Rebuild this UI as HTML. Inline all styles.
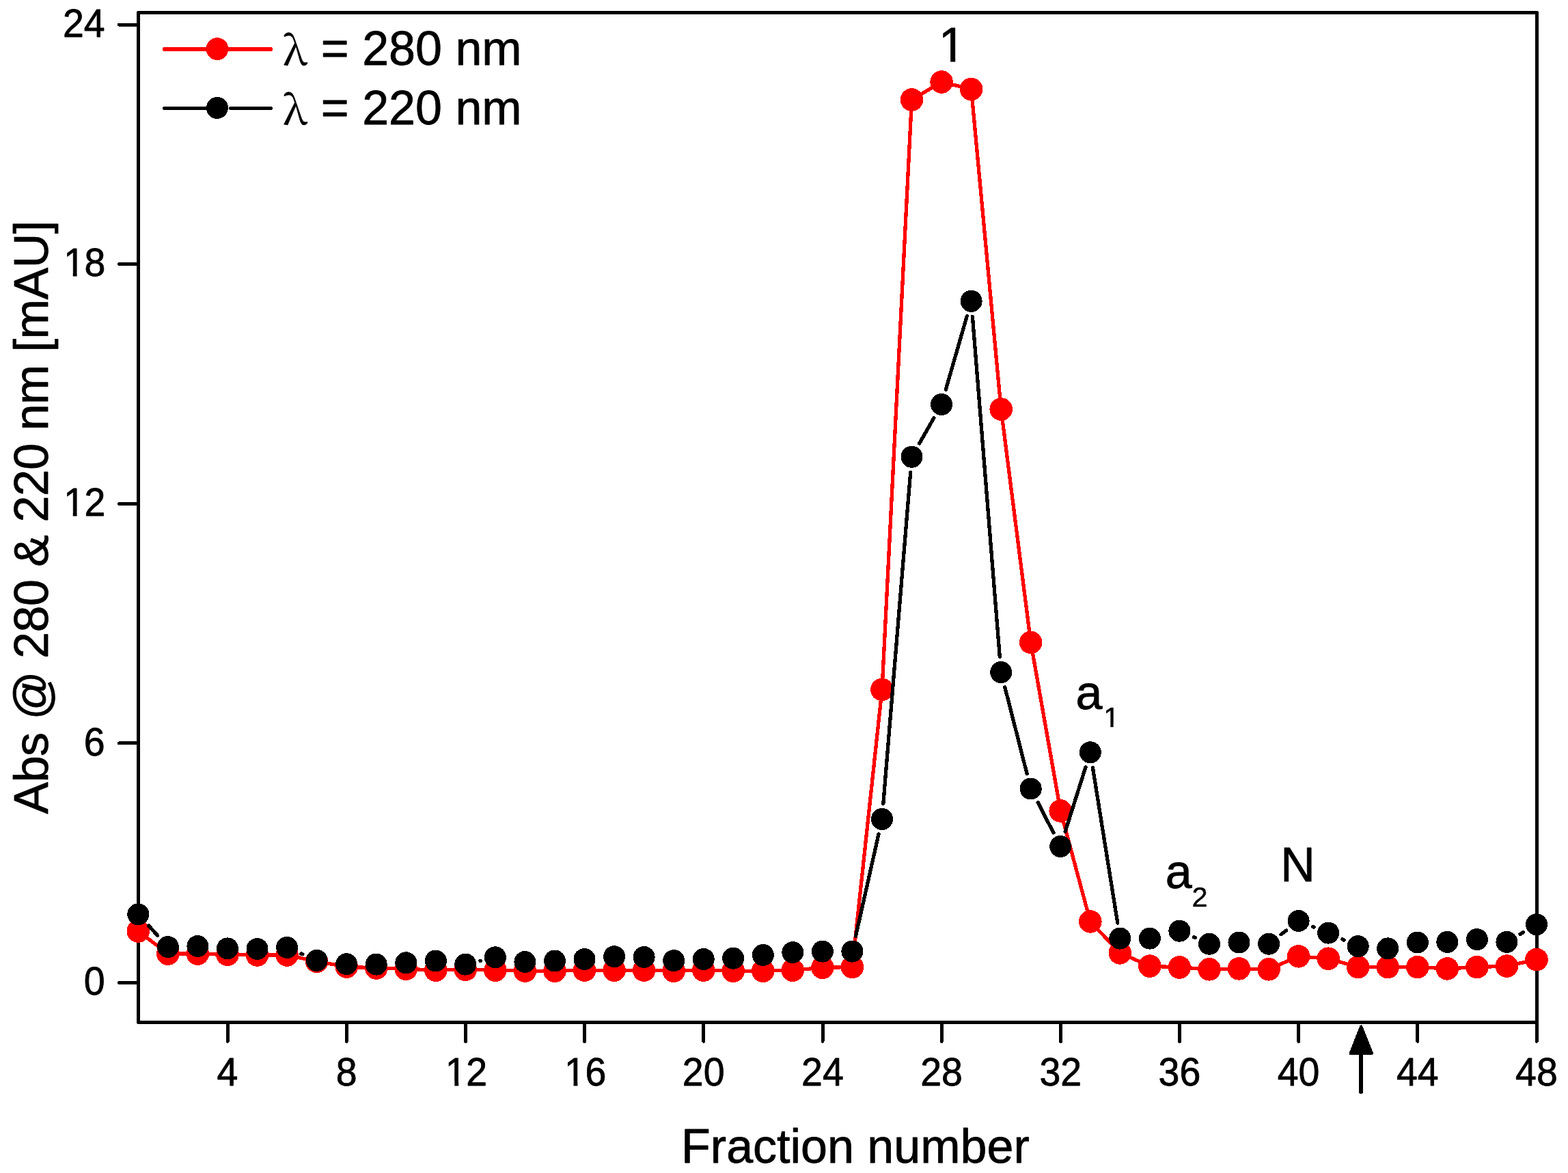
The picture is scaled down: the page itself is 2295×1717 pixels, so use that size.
<!DOCTYPE html>
<html lang="en"><head><meta charset="utf-8"><title>Fraction chromatogram</title>
<style>html,body{margin:0;padding:0;background:#fff;}body{width:2295px;height:1717px;overflow:hidden;}svg{display:block;}text{font-family:"Liberation Sans",Arial,Helvetica,sans-serif;fill:#000;stroke:#000;stroke-linejoin:round;}.sym{font-family:"Noto Serif CJK SC","Liberation Serif",serif;}</style>
</head><body>
<svg width="2295" height="1717" viewBox="0 0 2295 1717">
<rect x="0" y="0" width="2295" height="1717" fill="#ffffff"/>
<defs><clipPath id="cy12" clipPathUnits="userSpaceOnUse"><rect x="-55.10" y="-62.15" width="339.00" height="56.15"/><rect x="15.16" y="-7.00" width="5.89" height="8.40"/><rect x="30.92" y="-62.15" width="339.00" height="90.40"/></clipPath><clipPath id="cy18" clipPathUnits="userSpaceOnUse"><rect x="-55.10" y="-62.15" width="339.00" height="56.15"/><rect x="15.16" y="-7.00" width="5.89" height="8.40"/><rect x="30.92" y="-62.15" width="339.00" height="90.40"/></clipPath><clipPath id="cx12" clipPathUnits="userSpaceOnUse"><rect x="-55.10" y="-62.15" width="339.00" height="56.15"/><rect x="15.16" y="-7.00" width="5.89" height="8.40"/><rect x="30.92" y="-62.15" width="339.00" height="90.40"/></clipPath><clipPath id="cx16" clipPathUnits="userSpaceOnUse"><rect x="-55.10" y="-62.15" width="339.00" height="56.15"/><rect x="15.16" y="-7.00" width="5.89" height="8.40"/><rect x="30.92" y="-62.15" width="339.00" height="90.40"/></clipPath><clipPath id="c1" clipPathUnits="userSpaceOnUse"><rect x="-70.00" y="-77.00" width="420.00" height="70.00"/><rect x="17.15" y="-8.00" width="7.09" height="9.40"/></clipPath><clipPath id="cs1" clipPathUnits="userSpaceOnUse"><rect x="-41.50" y="-45.65" width="249.00" height="41.65"/><rect x="10.14" y="-5.00" width="4.27" height="6.25"/></clipPath></defs>
<g id="axes" stroke="#000" stroke-width="5" fill="none" shape-rendering="crispEdges">
<rect x="202.5" y="18.5" width="2047.0" height="1478.0" stroke-linejoin="round"/>
<path d="M202.5 1438.5H174.5M202.5 1087.9H174.5M202.5 737.3H174.5M202.5 386.7H174.5M202.5 36.1H174.5M333.1 1496.5V1524.3M507.3 1496.5V1524.3M681.5 1496.5V1524.3M855.7 1496.5V1524.3M1029.9 1496.5V1524.3M1204.0 1496.5V1524.3M1378.2 1496.5V1524.3M1552.4 1496.5V1524.3M1726.6 1496.5V1524.3M1900.8 1496.5V1524.3M2074.9 1496.5V1524.3M2249.1 1496.5V1524.3" stroke-linecap="round"/>
</g>
<g id="series-280" shape-rendering="crispEdges">
<polyline points="202.3,1363.0 245.9,1396.1 289.4,1396.1 333.0,1397.4 376.5,1398.0 420.1,1398.0 463.6,1407.3 507.2,1415.1 550.7,1417.0 594.3,1418.3 637.8,1420.2 681.3,1419.3 724.9,1420.2 768.4,1421.2 812.0,1421.2 855.5,1420.2 899.1,1420.2 942.6,1420.2 986.2,1421.2 1029.7,1420.2 1073.2,1421.2 1116.8,1421.2 1160.3,1420.2 1203.9,1416.4 1247.4,1415.5 1291.0,1009.4 1334.5,146.0 1378.1,120.0 1421.6,130.6 1465.2,599.0 1508.7,940.3 1552.2,1186.9 1595.8,1348.9 1639.3,1394.9 1682.9,1414.1 1726.4,1416.0 1770.0,1418.8 1813.5,1417.9 1857.1,1418.8 1900.6,1399.8 1944.2,1403.2 1987.7,1415.6 2031.2,1415.6 2074.8,1415.6 2118.3,1417.9 2161.9,1415.6 2205.4,1414.1 2249.0,1404.6" fill="none" stroke="#ff0000" stroke-width="5.3" stroke-linejoin="round" stroke-linecap="round"/>
<circle cx="202.3" cy="1363.0" r="16.8" fill="#ff0000"/>
<circle cx="245.9" cy="1396.1" r="16.8" fill="#ff0000"/>
<circle cx="289.4" cy="1396.1" r="16.8" fill="#ff0000"/>
<circle cx="333.0" cy="1397.4" r="16.8" fill="#ff0000"/>
<circle cx="376.5" cy="1398.0" r="16.8" fill="#ff0000"/>
<circle cx="420.1" cy="1398.0" r="16.8" fill="#ff0000"/>
<circle cx="463.6" cy="1407.3" r="16.8" fill="#ff0000"/>
<circle cx="507.2" cy="1415.1" r="16.8" fill="#ff0000"/>
<circle cx="550.7" cy="1417.0" r="16.8" fill="#ff0000"/>
<circle cx="594.3" cy="1418.3" r="16.8" fill="#ff0000"/>
<circle cx="637.8" cy="1420.2" r="16.8" fill="#ff0000"/>
<circle cx="681.3" cy="1419.3" r="16.8" fill="#ff0000"/>
<circle cx="724.9" cy="1420.2" r="16.8" fill="#ff0000"/>
<circle cx="768.4" cy="1421.2" r="16.8" fill="#ff0000"/>
<circle cx="812.0" cy="1421.2" r="16.8" fill="#ff0000"/>
<circle cx="855.5" cy="1420.2" r="16.8" fill="#ff0000"/>
<circle cx="899.1" cy="1420.2" r="16.8" fill="#ff0000"/>
<circle cx="942.6" cy="1420.2" r="16.8" fill="#ff0000"/>
<circle cx="986.2" cy="1421.2" r="16.8" fill="#ff0000"/>
<circle cx="1029.7" cy="1420.2" r="16.8" fill="#ff0000"/>
<circle cx="1073.2" cy="1421.2" r="16.8" fill="#ff0000"/>
<circle cx="1116.8" cy="1421.2" r="16.8" fill="#ff0000"/>
<circle cx="1160.3" cy="1420.2" r="16.8" fill="#ff0000"/>
<circle cx="1203.9" cy="1416.4" r="16.8" fill="#ff0000"/>
<circle cx="1247.4" cy="1415.5" r="16.8" fill="#ff0000"/>
<circle cx="1291.0" cy="1009.4" r="16.8" fill="#ff0000"/>
<circle cx="1334.5" cy="146.0" r="16.8" fill="#ff0000"/>
<circle cx="1378.1" cy="120.0" r="16.8" fill="#ff0000"/>
<circle cx="1421.6" cy="130.6" r="16.8" fill="#ff0000"/>
<circle cx="1465.2" cy="599.0" r="16.8" fill="#ff0000"/>
<circle cx="1508.7" cy="940.3" r="16.8" fill="#ff0000"/>
<circle cx="1552.2" cy="1186.9" r="16.8" fill="#ff0000"/>
<circle cx="1595.8" cy="1348.9" r="16.8" fill="#ff0000"/>
<circle cx="1639.3" cy="1394.9" r="16.8" fill="#ff0000"/>
<circle cx="1682.9" cy="1414.1" r="16.8" fill="#ff0000"/>
<circle cx="1726.4" cy="1416.0" r="16.8" fill="#ff0000"/>
<circle cx="1770.0" cy="1418.8" r="16.8" fill="#ff0000"/>
<circle cx="1813.5" cy="1417.9" r="16.8" fill="#ff0000"/>
<circle cx="1857.1" cy="1418.8" r="16.8" fill="#ff0000"/>
<circle cx="1900.6" cy="1399.8" r="16.8" fill="#ff0000"/>
<circle cx="1944.2" cy="1403.2" r="16.8" fill="#ff0000"/>
<circle cx="1987.7" cy="1415.6" r="16.8" fill="#ff0000"/>
<circle cx="2031.2" cy="1415.6" r="16.8" fill="#ff0000"/>
<circle cx="2074.8" cy="1415.6" r="16.8" fill="#ff0000"/>
<circle cx="2118.3" cy="1417.9" r="16.8" fill="#ff0000"/>
<circle cx="2161.9" cy="1415.6" r="16.8" fill="#ff0000"/>
<circle cx="2205.4" cy="1414.1" r="16.8" fill="#ff0000"/>
<circle cx="2249.0" cy="1404.6" r="16.8" fill="#ff0000"/>
</g>
<g id="series-220" shape-rendering="crispEdges">
<path d="M217.6 1355.0L230.6 1369.4M440.8 1396.0L442.9 1396.8M703.0 1406.5L703.2 1406.4M1252.4 1370.5L1286.0 1221.0M1292.8 1176.3L1332.7 691.3M1345.7 649.0L1366.9 611.7M1384.3 570.2L1415.3 462.6M1423.4 463.4L1463.3 961.4M1470.8 1005.9L1503.1 1132.6M1519.1 1174.6L1541.9 1218.9M1559.1 1217.4L1589.0 1122.9M1599.4 1123.7L1635.8 1351.2M1747.2 1371.8L1749.2 1372.6M1875.0 1367.8L1882.7 1361.9M1921.6 1356.5L1923.2 1357.1M1964.8 1374.9L1967.0 1375.9M2224.9 1367.4L2229.5 1364.7" fill="none" stroke="#000000" stroke-width="5.3" stroke-linecap="round"/>
<circle cx="202.3" cy="1338.3" r="16.0" fill="#000000"/>
<circle cx="245.9" cy="1386.1" r="16.0" fill="#000000"/>
<circle cx="289.4" cy="1385.0" r="16.0" fill="#000000"/>
<circle cx="333.0" cy="1388.4" r="16.0" fill="#000000"/>
<circle cx="376.5" cy="1389.0" r="16.0" fill="#000000"/>
<circle cx="420.1" cy="1386.9" r="16.0" fill="#000000"/>
<circle cx="463.6" cy="1405.9" r="16.0" fill="#000000"/>
<circle cx="507.2" cy="1411.2" r="16.0" fill="#000000"/>
<circle cx="550.7" cy="1411.6" r="16.0" fill="#000000"/>
<circle cx="594.3" cy="1409.3" r="16.0" fill="#000000"/>
<circle cx="637.8" cy="1406.5" r="16.0" fill="#000000"/>
<circle cx="681.3" cy="1411.6" r="16.0" fill="#000000"/>
<circle cx="724.9" cy="1401.3" r="16.0" fill="#000000"/>
<circle cx="768.4" cy="1408.0" r="16.0" fill="#000000"/>
<circle cx="812.0" cy="1406.5" r="16.0" fill="#000000"/>
<circle cx="855.5" cy="1404.0" r="16.0" fill="#000000"/>
<circle cx="899.1" cy="1400.2" r="16.0" fill="#000000"/>
<circle cx="942.6" cy="1401.0" r="16.0" fill="#000000"/>
<circle cx="986.2" cy="1406.1" r="16.0" fill="#000000"/>
<circle cx="1029.7" cy="1404.0" r="16.0" fill="#000000"/>
<circle cx="1073.2" cy="1402.7" r="16.0" fill="#000000"/>
<circle cx="1116.8" cy="1397.9" r="16.0" fill="#000000"/>
<circle cx="1160.3" cy="1394.1" r="16.0" fill="#000000"/>
<circle cx="1203.9" cy="1392.6" r="16.0" fill="#000000"/>
<circle cx="1247.4" cy="1392.6" r="16.0" fill="#000000"/>
<circle cx="1291.0" cy="1198.9" r="16.0" fill="#000000"/>
<circle cx="1334.5" cy="668.7" r="16.0" fill="#000000"/>
<circle cx="1378.1" cy="592.0" r="16.0" fill="#000000"/>
<circle cx="1421.6" cy="440.8" r="16.0" fill="#000000"/>
<circle cx="1465.2" cy="984.0" r="16.0" fill="#000000"/>
<circle cx="1508.7" cy="1154.5" r="16.0" fill="#000000"/>
<circle cx="1552.2" cy="1239.0" r="16.0" fill="#000000"/>
<circle cx="1595.8" cy="1101.3" r="16.0" fill="#000000"/>
<circle cx="1639.3" cy="1373.6" r="16.0" fill="#000000"/>
<circle cx="1682.9" cy="1373.6" r="16.0" fill="#000000"/>
<circle cx="1726.4" cy="1362.7" r="16.0" fill="#000000"/>
<circle cx="1770.0" cy="1381.7" r="16.0" fill="#000000"/>
<circle cx="1813.5" cy="1379.5" r="16.0" fill="#000000"/>
<circle cx="1857.1" cy="1381.7" r="16.0" fill="#000000"/>
<circle cx="1900.6" cy="1348.0" r="16.0" fill="#000000"/>
<circle cx="1944.2" cy="1365.6" r="16.0" fill="#000000"/>
<circle cx="1987.7" cy="1385.2" r="16.0" fill="#000000"/>
<circle cx="2031.2" cy="1388.4" r="16.0" fill="#000000"/>
<circle cx="2074.8" cy="1379.5" r="16.0" fill="#000000"/>
<circle cx="2118.3" cy="1378.9" r="16.0" fill="#000000"/>
<circle cx="2161.9" cy="1375.1" r="16.0" fill="#000000"/>
<circle cx="2205.4" cy="1378.9" r="16.0" fill="#000000"/>
<circle cx="2249.0" cy="1353.2" r="16.0" fill="#000000"/>
</g>
<g id="ticklabels" font-size="56.5" stroke-width="0.8">
<text transform="translate(122.74 1456.30) scale(0.982 1)" x="0" y="0">0</text>
<text transform="translate(122.74 1105.69) scale(0.982 1)" x="0" y="0">6</text>
<text transform="translate(91.89 755.08) scale(0.982 1)" x="1.40 32.32" y="0" clip-path="url(#cy12)">12</text>
<text transform="translate(91.89 404.47) scale(0.982 1)" x="1.40 32.32" y="0" clip-path="url(#cy18)">18</text>
<text transform="translate(91.89 53.86) scale(0.982 1)" x="0" y="0">24</text>
<text transform="translate(317.56 1588.60) scale(0.982 1)" x="0" y="0">4</text>
<text transform="translate(491.74 1588.60) scale(0.982 1)" x="0" y="0">8</text>
<text transform="translate(650.49 1588.60) scale(0.982 1)" x="1.40 32.32" y="0" clip-path="url(#cx12)">12</text>
<text transform="translate(824.67 1588.60) scale(0.982 1)" x="1.40 32.32" y="0" clip-path="url(#cx16)">16</text>
<text transform="translate(998.85 1588.60) scale(0.982 1)" x="0" y="0">20</text>
<text transform="translate(1173.03 1588.60) scale(0.982 1)" x="0" y="0">24</text>
<text transform="translate(1347.21 1588.60) scale(0.982 1)" x="0" y="0">28</text>
<text transform="translate(1521.39 1588.60) scale(0.982 1)" x="0" y="0">32</text>
<text transform="translate(1695.57 1588.60) scale(0.982 1)" x="0" y="0">36</text>
<text transform="translate(1869.75 1588.60) scale(0.982 1)" x="0" y="0">40</text>
<text transform="translate(2043.93 1588.60) scale(0.982 1)" x="0" y="0">44</text>
<text transform="translate(2218.11 1588.60) scale(0.982 1)" x="0" y="0">48</text>
</g>
<g id="titles" font-size="70.0" stroke-width="0.8">
<text id="xtitle" x="1251.9" y="1702.4" text-anchor="middle">Fraction number</text>
<text id="ytitle" transform="translate(69.5 1191.5) rotate(-90)" textLength="868.8" lengthAdjust="spacing">Abs @ 280 &amp; 220 nm [mAU]</text>
</g>
<g id="legend" font-size="70.0" stroke-width="0.8">
<path d="M240.9 72.0 H396.1" stroke="#ff0000" stroke-width="6" stroke-linecap="round" fill="none" shape-rendering="crispEdges"/>
<circle cx="317.9" cy="71.6" r="16.4" fill="#ff0000" shape-rendering="crispEdges"/>
<text class="sym" transform="translate(414.3 95.19999999999999) scale(1.03 1)" font-size="59.3" stroke-width="0.5">λ</text>
<text x="469.85" y="95.1">= 280 nm</text>
<path d="M240.4 158.4 H302 M337.4 158.4 H396.6" stroke="#000000" stroke-width="5" stroke-linecap="round" fill="none" shape-rendering="crispEdges"/>
<circle cx="317.9" cy="157.9" r="16.0" fill="#000000" shape-rendering="crispEdges"/>
<text class="sym" transform="translate(414.3 182.1) scale(1.03 1)" font-size="59.3" stroke-width="0.5">λ</text>
<text x="469.85" y="182">= 220 nm</text>
</g>
<g id="annotations" font-size="70.0" stroke-width="0.8">
<text transform="translate(1374.0 90)" clip-path="url(#c1)">1</text>
<text x="1574.6" y="1038.2">a</text>
<text transform="translate(1615.2 1063.8)" font-size="41.5" stroke-width="0.5" clip-path="url(#cs1)">1</text>
<text x="1705.7" y="1300">a</text>
<text x="1744.6" y="1327" font-size="41.5" stroke-width="0.5">2</text>
<text x="1874.2" y="1290">N</text>
</g>
<g id="arrow" shape-rendering="crispEdges">
<path d="M1992 1598 V1530" stroke="#000" stroke-width="6.5" stroke-linecap="round" fill="none"/>
<path d="M1992.2 1502.5 L2008 1542 H1976.5 Z" fill="#000" stroke="#000" stroke-width="4" stroke-linejoin="round"/>
</g>
</svg>
</body></html>
